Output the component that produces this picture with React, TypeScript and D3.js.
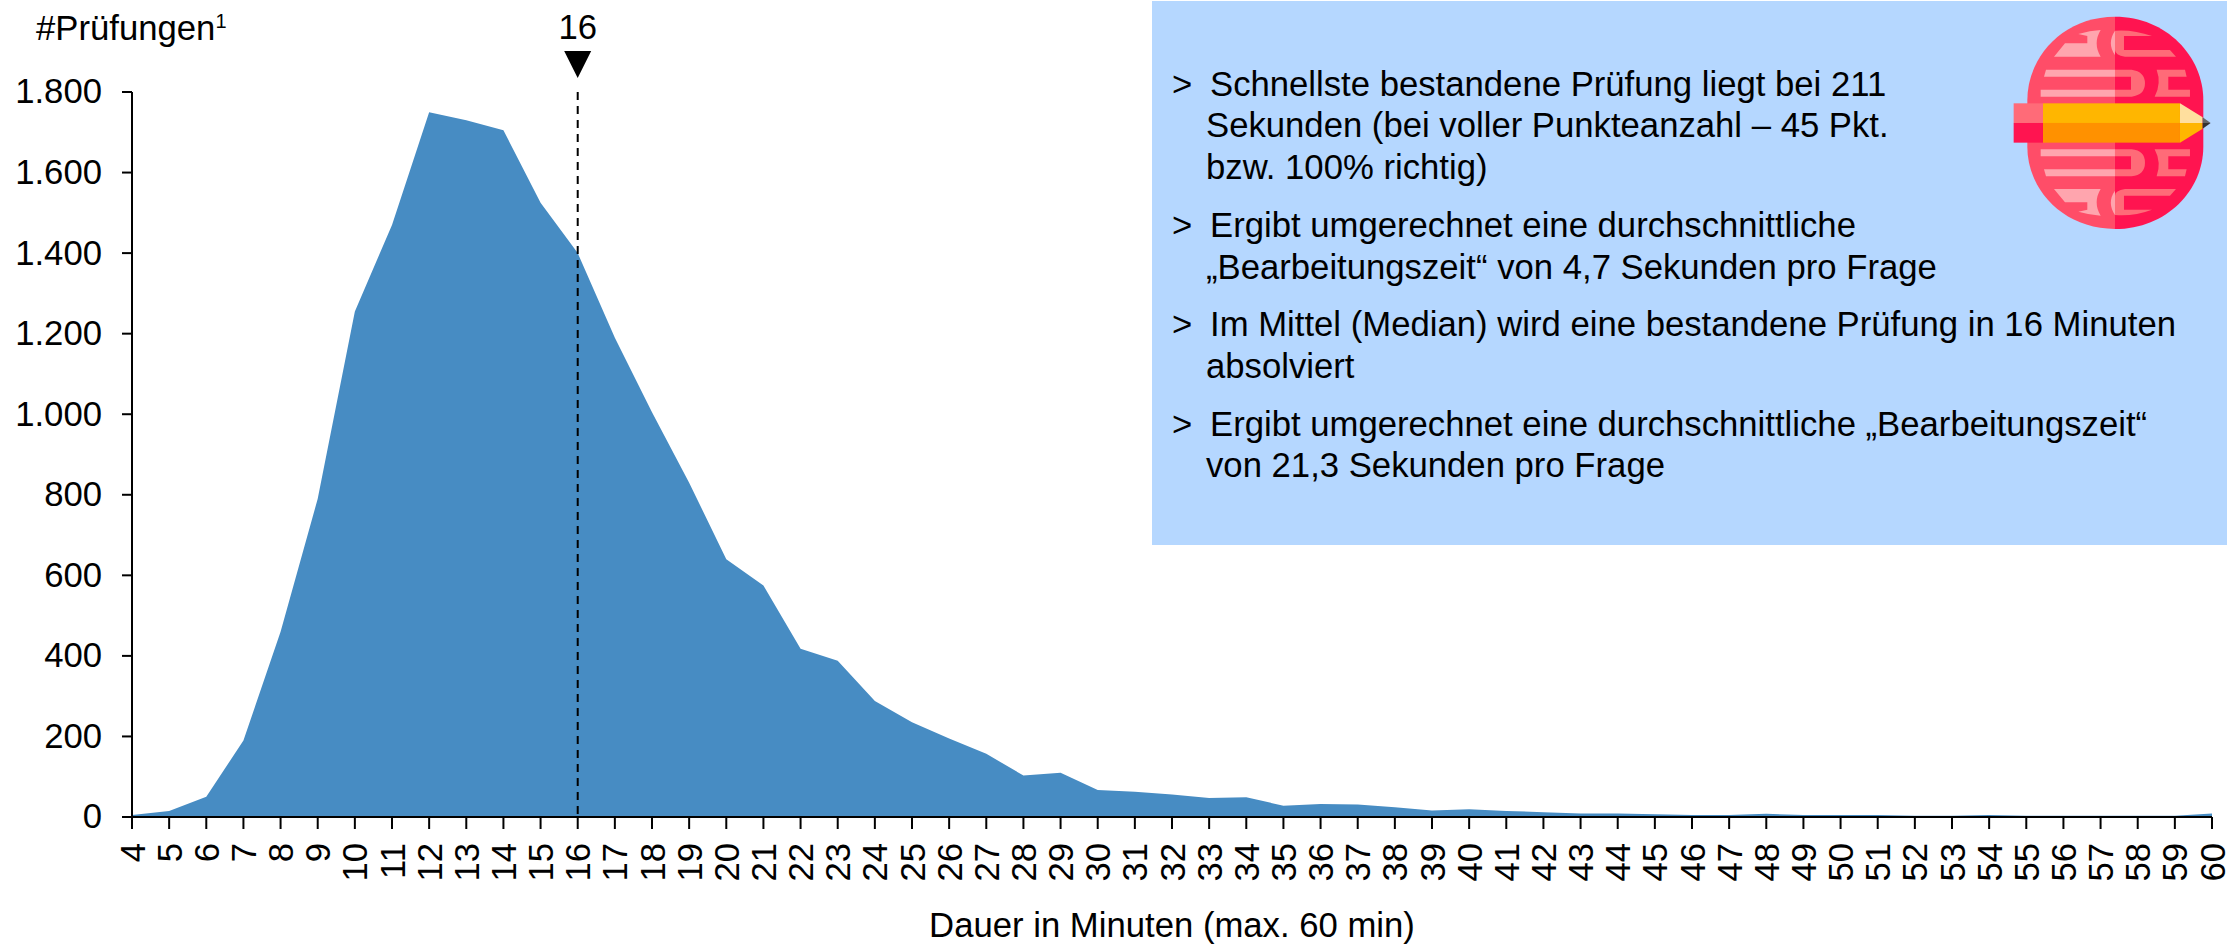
import React from "react";
import * as d3 from "d3";

const minutes = d3.range(4, 61);
const counts = [5, 15, 50, 190, 460, 790, 1255, 1470, 1750, 1730, 1705, 1525, 1400, 1190, 1005, 830, 640, 575, 418, 388, 288, 235, 195, 157, 103, 110, 67, 63, 56, 47, 49, 28, 32, 31, 24, 16, 19, 15, 12, 9, 9, 7, 5, 5, 8, 5, 5, 5, 3, 3, 5, 3, 3, 3, 3, 3, 9];
const yTicks = [0, 200, 400, 600, 800, 1000, 1200, 1400, 1600, 1800];
const medianMinute = 16;
const notes: { bullet: boolean; x: number; y: number; text: string }[] = [
  { bullet: true, x: 1210, y: 96, text: "Schnellste bestandene Prüfung liegt bei 211" },
  { bullet: false, x: 1206, y: 137, text: "Sekunden (bei voller Punkteanzahl – 45 Pkt." },
  { bullet: false, x: 1206, y: 179, text: "bzw. 100% richtig)" },
  { bullet: true, x: 1210, y: 237, text: "Ergibt umgerechnet eine durchschnittliche" },
  { bullet: false, x: 1206, y: 279, text: "„Bearbeitungszeit“ von 4,7 Sekunden pro Frage" },
  { bullet: true, x: 1210, y: 336, text: "Im Mittel (Median) wird eine bestandene Prüfung in 16 Minuten" },
  { bullet: false, x: 1206, y: 378, text: "absolviert" },
  { bullet: true, x: 1210, y: 436, text: "Ergibt umgerechnet eine durchschnittliche „Bearbeitungszeit“" },
  { bullet: false, x: 1206, y: 477, text: "von 21,3 Sekunden pro Frage" },
];

const FONT = "'Liberation Sans', Arial, sans-serif";
const FS = 34.7;
const fmt = (v: number) => d3.format(",")(v).replace(/,/g, ".");

const Icon = () => (
  <g transform="translate(1950,0) scale(0.3333)">
    <path d="M495 50 C340 50 232 170 232 300 V440 C232 570 340 687 495 687 Z" fill="#ff4d68" />
    <path d="M495 50 C650 50 760 170 760 300 V440 C760 570 650 687 495 687 Z" fill="#ff1450" />
    <g fill="#ffa5ae">
      <path d="M312 170 L345 130 H412 V108 L385 102 Q420 92 452 90 Q428 130 452 170 Z" />
      <path d="M288 209 H495 V230 H282 Z" />
      <path d="M272 269 H495 V290 H272 Z" />
      <path d="M272 448 H495 V469 H272 Z" />
      <path d="M282 508 H495 V529 H288 Z" />
      <path d="M312 567 L345 607 H412 V629 L385 635 Q420 645 452 647 Q428 607 452 567 Z" />
    </g>
    <g fill="#ff6b78">
      <path d="M495 92 Q550 88 606 108 H522 V150 H660 L678 170 H525 Q495 165 495 150 Z" />
      <path d="M495 209 H545 Q585 215 585 250 Q585 285 545 290 H495 V269 H543 V230 H495 Z" />
      <path d="M620 209 H705 L710 230 H655 V269 H720 V290 H614 Q635 250 620 209 Z" />
      <path d="M495 448 H545 Q585 452 585 488 Q585 524 545 529 H495 V508 H543 V469 H495 Z" />
      <path d="M614 448 H720 V469 H655 V508 H710 L705 529 H620 Q635 488 614 448 Z" />
      <path d="M495 645 Q550 650 606 629 H522 V587 H660 L678 567 H525 Q495 572 495 587 Z" />
    </g>
    <path d="M495 92 Q470 130 495 165 Z" fill="#ffa5ae" />
    <path d="M495 645 Q470 607 495 572 Z" fill="#ffa5ae" />
    <rect x="191" y="310" width="88" height="59" fill="#ff6b78" />
    <rect x="191" y="369" width="88" height="59" fill="#ff1450" />
    <rect x="279" y="310" width="411" height="59" fill="#ffb600" />
    <rect x="279" y="369" width="411" height="59" fill="#ff9100" />
    <path d="M690 310 L758 352 L758 369 H690 Z" fill="#ffdf9e" />
    <path d="M690 369 H758 V386 L690 428 Z" fill="#ffb600" />
    <path d="M758 352 L782 369 H758 Z" fill="#666" />
    <path d="M758 386 L782 369 H758 Z" fill="#333" />
  </g>
);

export default function App() {
  const x = d3.scaleLinear().domain([4, 60]).range([132, 2212]);
  const y = d3.scaleLinear().domain([0, 1800]).range([817, 92]);
  const area = d3.area<number>()
    .x((_, i) => x(minutes[i]))
    .y0(y(0))
    .y1((d) => y(d));
  const axisColor = "#000";
  return (
    <svg
      width={2227}
      height={945}
      style={{ position: "absolute", left: 0, top: 0, display: "block", fontFamily: FONT }}
    >
      <rect width={2227} height={945} fill="#fff" />
      <rect x={1152} y={1} width={1075} height={544} fill="#b5d7ff" />
      <path d={area(counts) ?? ""} fill="#478cc3" />

      <line x1={x(4)} x2={x(4)} y1={y(1800)} y2={y(0)} stroke={axisColor} strokeWidth={2} />
      <line x1={122} x2={x(60)} y1={y(0)} y2={y(0)} stroke={axisColor} strokeWidth={2} />
      {yTicks.map((t) => (
        <g key={t}>
          <line x1={122} x2={x(4)} y1={y(t)} y2={y(t)} stroke={axisColor} strokeWidth={2} />
          <text x={102} y={y(t)} dy="0.33em" textAnchor="end" fontSize={FS}>
            {fmt(t)}
          </text>
        </g>
      ))}
      {minutes.map((m) => (
        <g key={m}>
          <line x1={x(m)} x2={x(m)} y1={y(0)} y2={829} stroke={axisColor} strokeWidth={2} />
          <text
            transform={`translate(${x(m)},843) rotate(-90)`}
            dy="0.36em"
            textAnchor="end"
            fontSize={FS}
          >
            {m}
          </text>
        </g>
      ))}

      <line
        x1={x(medianMinute)}
        x2={x(medianMinute)}
        y1={y(1800)}
        y2={y(0)}
        stroke="#000"
        strokeWidth={2}
        strokeDasharray="8 6"
      />
      <path d={`M${x(medianMinute) - 13.5},51 h27 l-13.5,27 z`} fill="#000" />
      <text x={x(medianMinute)} y={38.5} textAnchor="middle" fontSize={FS}>
        {medianMinute}
      </text>

      <text x={36} y={40} fontSize={FS}>
        #Prüfungen
        <tspan fontSize={20} dy={-12}>1</tspan>
      </text>
      <text x={1172} y={937} textAnchor="middle" fontSize={FS}>
        Dauer in Minuten (max. 60 min)
      </text>

      {notes.map((n, i) => (
        <g key={i}>
          {n.bullet && (
            <text x={1172} y={n.y} fontSize={FS}>
              {">"}
            </text>
          )}
          <text x={n.x} y={n.y} fontSize={FS}>
            {n.text}
          </text>
        </g>
      ))}
      <Icon />
    </svg>
  );
}
